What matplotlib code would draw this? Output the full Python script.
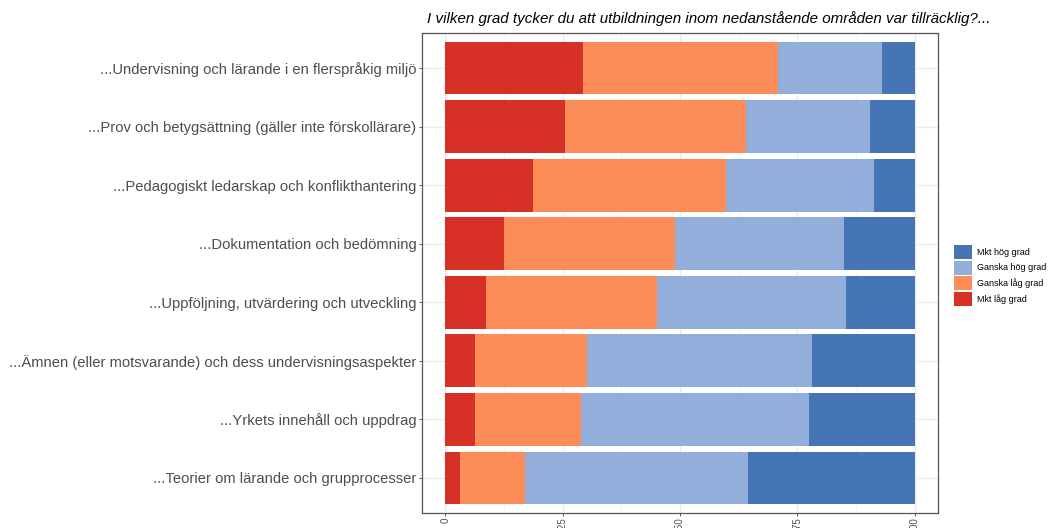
import matplotlib
matplotlib.use("Agg")
import matplotlib.pyplot as plt
from matplotlib.patches import Patch
import numpy as np

plt.rcParams['font.family'] = ['Liberation Sans', 'DejaVu Sans']

categories = [
    "...Undervisning och lärande i en flerspråkig miljö",
    "...Prov och betygsättning (gäller inte förskollärare)",
    "...Pedagogiskt ledarskap och konflikthantering",
    "...Dokumentation och bedömning",
    "...Uppföljning, utvärdering och utveckling",
    "...Ämnen (eller motsvarande) och dess undervisningsaspekter",
    "...Yrkets innehåll och uppdrag",
    "...Teorier om lärande och grupprocesser",
]
mkt_lag = [0.294, 0.255, 0.187, 0.124, 0.086, 0.064, 0.064, 0.030]
ganska_lag = [0.414, 0.385, 0.410, 0.365, 0.365, 0.238, 0.226, 0.140]
ganska_hog = [0.223, 0.266, 0.316, 0.361, 0.402, 0.479, 0.485, 0.475]
mkt_hog = [0.069, 0.094, 0.087, 0.150, 0.147, 0.219, 0.225, 0.355]

series_names = ["Mkt låg grad", "Ganska låg grad", "Ganska hög grad", "Mkt hög grad"]
series_vals = [mkt_lag, ganska_lag, ganska_hog, mkt_hog]
colors = ["#d73027", "#fc8d59", "#91afda", "#4575b4"]

xticks = [0, 0.25, 0.5, 0.75, 1.0]
xticklabels = ["0", "0.25", "0.50", "0.75", "1.00"]
title = "I vilken grad tycker du att utbildningen inom nedanstående områden var tillräcklig?..."

W, H = 1048, 528
fig = plt.figure(figsize=(W / 100, H / 100), dpi=100)
ax = fig.add_axes([422 / W, 1 - 513 / H, (938 - 422) / W, (513 - 33) / H])

n = len(categories)
ypos = np.arange(n, 0, -1)  # top category at highest y
left = np.zeros(n)
for name, vals, c in zip(series_names, series_vals, colors):
    vals = np.array(vals)
    ax.barh(ypos, vals, left=left, height=0.9, color=c, edgecolor='none', zorder=2)
    left += vals

ax.set_xlim(-0.05, 1.05)
ax.set_ylim(0.4, n + 0.6)
ax.set_yticks(ypos)
ax.set_yticklabels(categories)
ax.set_xticks(xticks)
ax.set_xticklabels(xticklabels, rotation=90)
ax.set_xticks([0.125, 0.375, 0.625, 0.875], minor=True)

ax.grid(True, which='major', color='#ebebeb', linewidth=1.0, zorder=0)
ax.grid(True, which='minor', axis='x', color='#f2f2f2', linewidth=0.6, zorder=0)
ax.set_axisbelow(True)

for s in ax.spines.values():
    s.set_color('#555555')
    s.set_linewidth(0.9)

ax.tick_params(axis='y', which='major', length=2.5, width=0.7, color='#555555',
               labelsize=10.6, labelcolor='#4d4d4d', pad=1.5)
ax.tick_params(axis='x', which='major', length=2.5, width=0.7, color='#555555',
               labelsize=7, labelcolor='#4d4d4d', pad=0.5)
ax.tick_params(axis='x', which='minor', length=0)
for lbl in ax.get_xticklabels():
    lbl.set_verticalalignment('top')

fig.text(427 / W, 1 - 23 / H, title, fontsize=10.9, style='italic', color='black',
         ha='left', va='baseline')

handles = [Patch(facecolor=c, edgecolor='none', label=nm)
           for nm, c in zip(series_names[::-1], colors[::-1])]
fig.legend(handles=handles, loc='center left', bbox_to_anchor=(954 / W, 1 - 275.5 / H),
           frameon=False, fontsize=6.5, handlelength=2.0, handleheight=2.0,
           handletextpad=0.5, labelspacing=0.2, borderpad=0, borderaxespad=0)

fig.savefig("out.png", dpi=100)
